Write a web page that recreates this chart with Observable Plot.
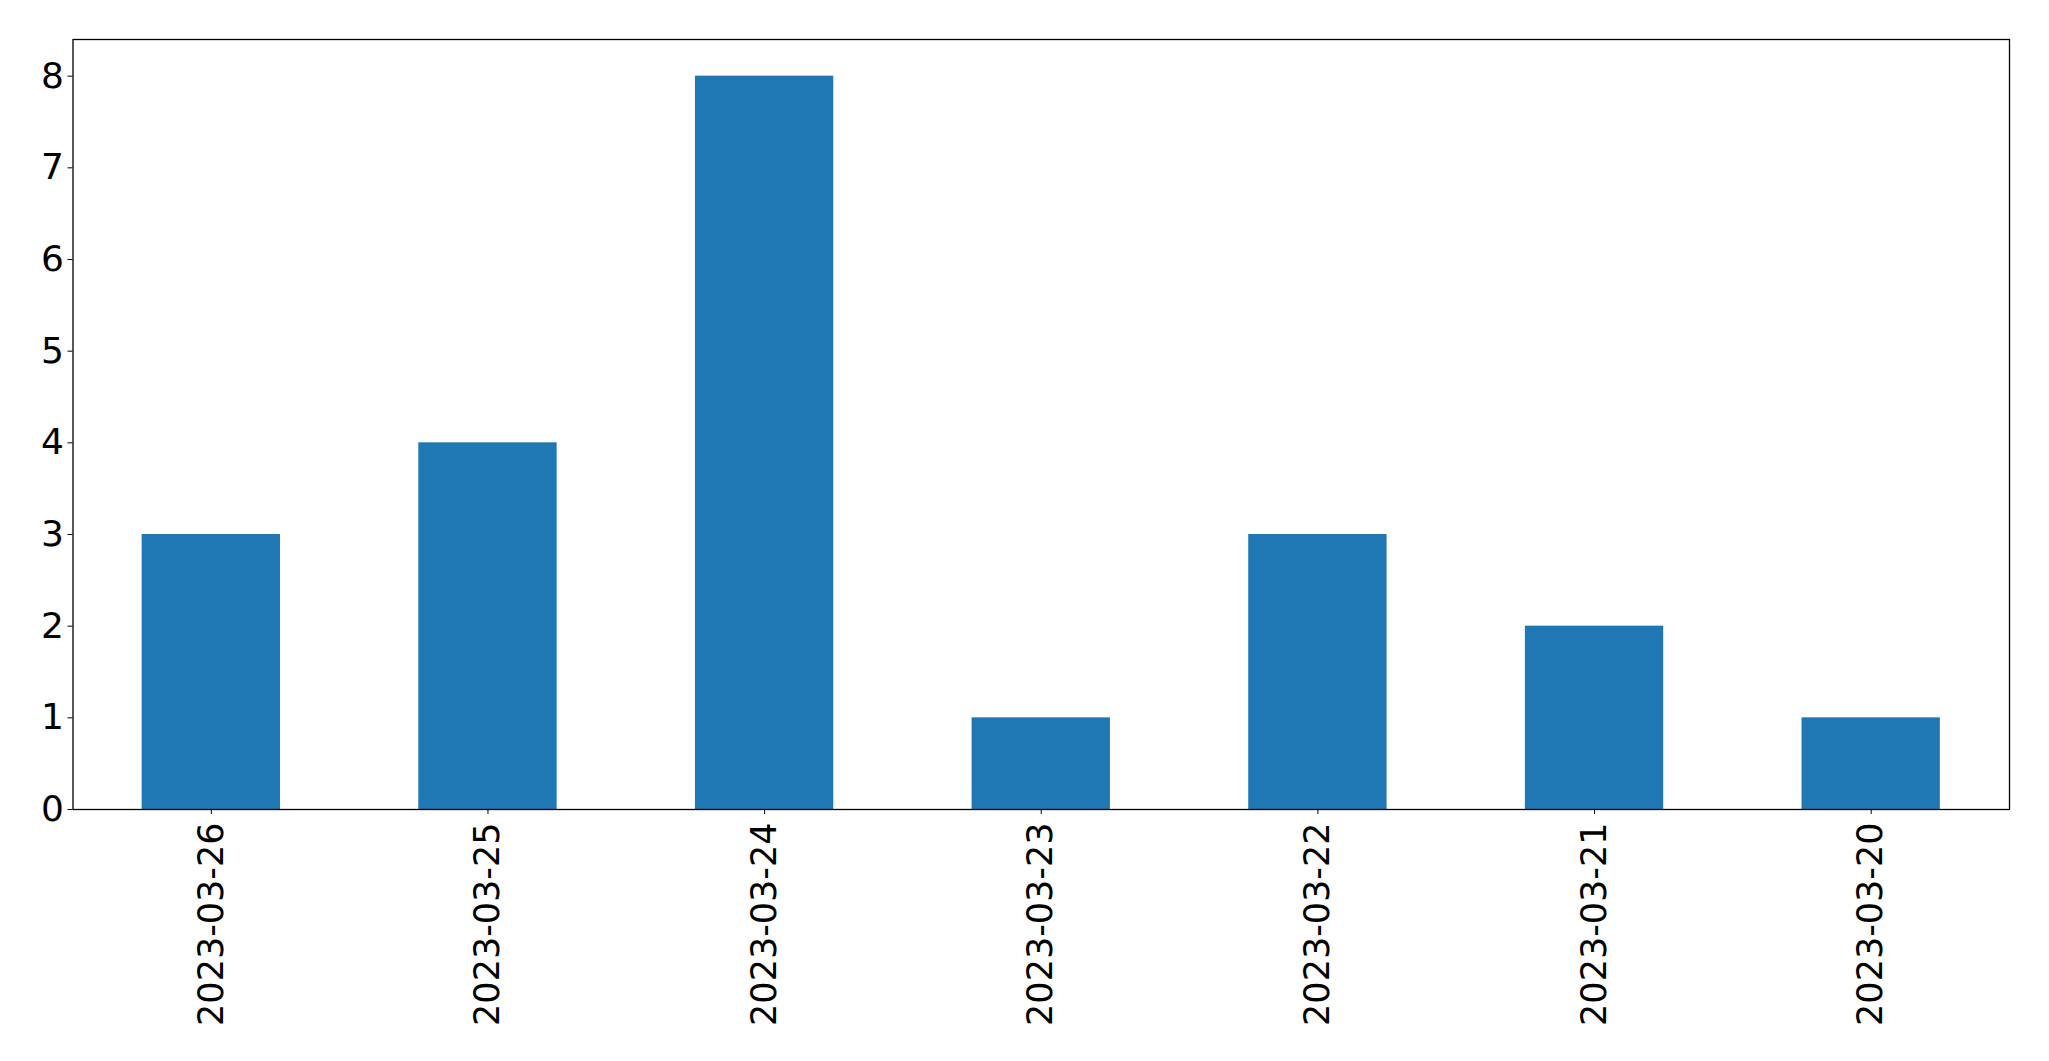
<!DOCTYPE html>
<html>
<head>
<meta charset="utf-8">
<script src="https://cdn.jsdelivr.net/npm/d3@7"></script>
<script src="https://cdn.jsdelivr.net/npm/@observablehq/plot@0.6"></script>
<style>
  html, body { margin: 0; padding: 0; background: #fff; }
  #chart svg { display: block; }
</style>
</head>
<body>
<div id="chart"></div>
<script>
const dates = ["2023-03-26", "2023-03-25", "2023-03-24", "2023-03-23", "2023-03-22", "2023-03-21", "2023-03-20"];
const counts = [3, 4, 8, 1, 3, 2, 1];
const yTicks = [0, 1, 2, 3, 4, 5, 6, 7, 8];

const data = dates.map((d, i) => ({date: d, count: counts[i]}));

const chart = Plot.plot({
  width: 2049,
  height: 1061,
  marginLeft: 72.5,
  marginRight: 40,
  marginTop: 39,
  marginBottom: 252,
  style: {fontFamily: "DejaVu Sans", fontSize: "35px", color: "black", background: "white"},
  x: {domain: dates, paddingInner: 0.5, paddingOuter: 0.25, round: false, label: null},
  y: {domain: [0, 8.4], label: null},
  marks: [
    Plot.barY(data, {x: "date", y: "count", fill: "#1f77b4"}),
    Plot.axisY({ticks: yTicks, tickSize: 5, tickPadding: 4, fontSize: 36, label: null, stroke: "black", strokeOpacity: 1}),
    Plot.axisX({tickRotate: -90, tickSize: 5, tickPadding: 8, label: null, stroke: "black", strokeOpacity: 1}),
    Plot.frame({stroke: "black", strokeWidth: 1.3})
  ]
});
document.getElementById("chart").appendChild(chart);
</script>
</body>
</html>
